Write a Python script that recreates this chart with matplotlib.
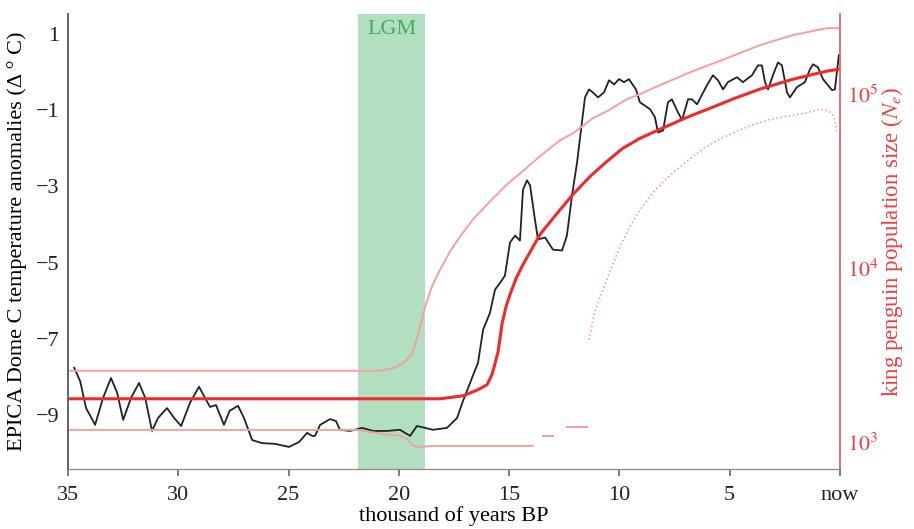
import numpy as np
import matplotlib
matplotlib.use('Agg')
import matplotlib.pyplot as plt
from matplotlib.ticker import NullLocator, FixedLocator, FixedFormatter

plt.rcParams['font.family'] = ['Liberation Serif', 'DejaVu Serif']
plt.rcParams['mathtext.fontset'] = 'stix'
plt.rcParams['font.size'] = 16

# EPICA Dome C temperature anomaly (kyr BP, deg C)
temp_t = [34.72, 34.45, 34.18, 33.77, 33.41, 33.05, 32.77, 32.50, 32.14, 31.78,
          31.50, 31.19, 30.92, 30.51, 30.19, 29.87, 29.47, 29.06, 28.79, 28.56,
          28.29, 27.93, 27.67, 27.29, 27.02, 26.65, 26.20, 25.61, 24.98, 24.52,
          24.16, 23.93, 23.80, 23.57, 23.12, 22.85, 22.67, 22.21, 21.67, 21.17,
          20.53, 19.95, 19.49, 19.18, 18.81, 18.45, 17.82, 17.36, 17.09, 16.77,
          16.59, 16.41, 16.18, 15.87, 15.64, 15.41, 15.19, 14.96, 14.73, 14.51,
          14.37, 14.19, 14.05, 13.83, 13.69, 13.37, 13.01, 12.60, 12.38, 12.15,
          11.92, 11.70, 11.56, 11.38, 11.20, 10.97, 10.70, 10.47, 10.24, 10.02,
          9.79, 9.57, 9.25, 9.07, 8.61, 8.39, 8.25, 8.02, 7.80, 7.62,
          7.39, 7.16, 6.89, 6.71, 6.48, 6.03, 5.76, 5.53, 5.30, 5.08,
          4.67, 4.40, 3.99, 3.72, 3.54, 3.40, 3.26, 3.04, 2.81, 2.63,
          2.40, 2.27, 1.95, 1.59, 1.36, 1.22, 1.00, 0.77, 0.36, 0.23, 0.05]
temp_v = [-7.76, -8.11, -8.82, -9.26, -8.55, -8.03, -8.42, -9.13, -8.55, -8.16,
          -8.55, -9.42, -9.08, -8.82, -9.08, -9.29, -8.68, -8.26, -8.55, -8.79,
          -8.74, -9.26, -8.89, -8.76, -9.08, -9.66, -9.74, -9.76, -9.84, -9.71,
          -9.47, -9.55, -9.55, -9.26, -9.11, -9.16, -9.39, -9.42, -9.34, -9.42,
          -9.42, -9.39, -9.55, -9.29, -9.34, -9.39, -9.34, -9.08, -8.63, -8.16,
          -7.89, -7.63, -6.76, -6.32, -5.71, -5.53, -5.34, -4.47, -4.29, -4.42,
          -3.08, -2.84, -2.97, -3.87, -4.39, -4.34, -4.66, -4.68, -4.29, -3.24,
          -2.37, -1.32, -0.66, -0.45, -0.53, -0.66, -0.53, -0.21, -0.32, -0.18,
          -0.26, -0.18, -0.45, -0.79, -0.97, -1.18, -1.58, -1.53, -0.79, -0.71,
          -1.00, -1.26, -0.71, -0.71, -0.84, -0.34, -0.08, -0.21, -0.45, -0.26,
          -0.13, -0.26, -0.08, 0.18, 0.18, -0.26, -0.45, -0.08, 0.26, 0.18,
          -0.53, -0.66, -0.39, -0.26, 0.08, 0.21, 0.13, -0.18, -0.47, -0.45, 0.45]

# king penguin Ne, median (log10)
med_t = [35.0, 18.13, 17.09, 16.41, 16.00, 15.78, 15.64, 15.50, 15.32, 15.14,
         14.96, 14.69, 14.37, 13.60, 12.83, 12.10, 11.33, 10.56, 9.84, 9.07,
         8.16, 7.03, 5.89, 4.76, 3.63, 2.13, 0.59, 0.0]
med_log = [3.248, 3.248, 3.265, 3.300, 3.329, 3.386, 3.450, 3.519, 3.680, 3.778,
           3.847, 3.939, 4.020, 4.193, 4.314, 4.424, 4.527, 4.614, 4.689, 4.746,
           4.798, 4.862, 4.919, 4.977, 5.029, 5.086, 5.133, 5.144]

# upper bound (log10 Ne)
up_t = [35.0, 20.85, 20.17, 19.72, 19.40, 19.22, 19.04, 18.81, 18.50, 18.13,
        17.68, 17.23, 16.90, 16.64, 15.87, 15.10, 14.28, 13.60, 12.69, 12.10, 11.20,
        10.56, 9.66, 9.07, 8.16, 6.66, 5.12, 3.63, 2.13, 0.59, 0.0]
up_log = [3.409, 3.409, 3.427, 3.461, 3.507, 3.576, 3.663, 3.778, 3.893, 3.991,
          4.095, 4.180, 4.235, 4.280, 4.383, 4.481, 4.568, 4.643, 4.735, 4.775, 4.862,
          4.902, 4.971, 5.000, 5.052, 5.133, 5.207, 5.282, 5.340, 5.380, 5.380]

# lower bound (log10 Ne), broken in pieces
low1_t = [35.0, 22.67, 21.90, 20.72, 19.95, 19.63, 19.40, 19.18, 18.45, 13.92]
low1_log = [3.069, 3.069, 3.069, 3.046, 3.035, 3.017, 2.983, 2.971, 2.977, 2.977]
low2_t = [13.46, 13.01]
low2_log = [3.035, 3.035]
low3_t = [12.38, 11.47]
low3_log = [3.086, 3.086]
low4_t = [11.38, 11.15, 10.83, 10.38, 9.93, 9.47, 9.02, 8.43, 7.66, 6.94,
          6.17, 5.39, 4.67, 3.90, 3.13, 2.40, 1.63, 0.86, 0.50, 0.27, 0.14]
low4_log = [3.588, 3.732, 3.847, 3.997, 4.135, 4.251, 4.343, 4.441, 4.539, 4.614,
            4.689, 4.746, 4.787, 4.827, 4.856, 4.873, 4.890, 4.914, 4.902, 4.873, 4.787]

lgm = (21.85, 18.81)
x_ticks = [35, 30, 25, 20, 15, 10, 5, 0]
x_labels = ['35', '30', '25', '20', '15', '10', '5', 'now']
y_ticks = [1, -1, -3, -5, -7, -9]

fig = plt.figure(figsize=(9.14, 5.29), dpi=100)
ax = fig.add_axes([0.0744, 0.1134, 0.8446, 0.8601])
ax2 = ax.twinx()

pale = '#f2a0a0'
red = '#ee2a2a'

ax.axvspan(lgm[0], lgm[1], color='#b2dfc0', lw=0, zorder=0)
ax.text(sum(lgm) / 2, 1.13, 'LGM', color='#40b060', ha='center', va='center', fontsize=16)
ax.plot(temp_t, temp_v, color='#222222', lw=1.3, zorder=3, solid_joinstyle='round')

ax2.plot(up_t, 10 ** np.array(up_log), color=pale, lw=1.4)
ax2.plot(low1_t, 10 ** np.array(low1_log), color=pale, lw=1.4)
ax2.plot(low2_t, 10 ** np.array(low2_log), color=pale, lw=1.4)
ax2.plot(low3_t, 10 ** np.array(low3_log), color=pale, lw=1.4)
ax2.plot(low4_t, 10 ** np.array(low4_log), color=pale, lw=1.2, ls=(0, (1, 1.5)))
ax2.plot(med_t, 10 ** np.array(med_log), color=red, lw=2.2)

ax.set_xlim(35, 0)
ax.set_ylim(-10.42, 1.53)
ax.set_xticks(x_ticks)
ax.set_xticklabels(x_labels)
ax.set_yticks(y_ticks)
ax.tick_params(axis='y', length=0, pad=6, colors='#222222')
ax.tick_params(axis='x', length=5, width=1.2, color='#666666', pad=7, colors='#222222')
ax.set_xlabel('thousand of years BP', labelpad=1)
ax.set_ylabel('EPICA Dome C temperature anomalies (Δ ° C)', fontsize=16)
ax.yaxis.set_label_coords(-0.053, 0.5)

ax2.set_yscale('log')
ax2.set_ylim(10 ** 2.844, 10 ** 5.461)
ax2.yaxis.set_major_locator(FixedLocator([1e3, 1e4, 1e5]))
ax2.yaxis.set_major_formatter(FixedFormatter(['$10^3$', '$10^4$', '$10^5$']))
ax2.yaxis.set_minor_locator(NullLocator())
ax2.tick_params(axis='y', length=0, pad=5, colors='#ee4040')
ax2.set_ylabel('king penguin population size ($N_e$)', color='#ee4040', fontsize=16.5)
ax2.yaxis.set_label_coords(1.05, 0.5)

for a in (ax, ax2):
    a.spines['top'].set_visible(False)
    a.spines['left'].set_color('#666666')
    a.spines['bottom'].set_color('#888888')
    a.spines['right'].set_color('#f06060')
    a.spines['left'].set_linewidth(1.3)
    a.spines['right'].set_linewidth(1.3)
ax.spines['right'].set_visible(False)

fig.savefig('out.png', dpi=100)
